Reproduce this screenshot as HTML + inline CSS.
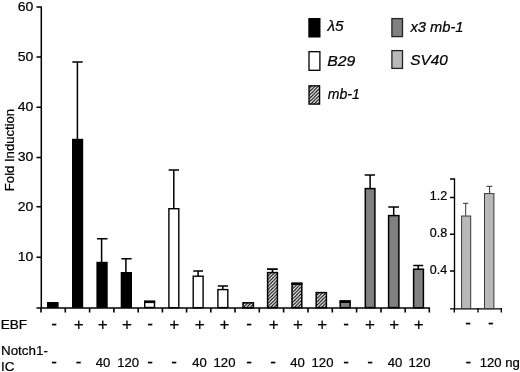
<!DOCTYPE html>
<html>
<head>
<meta charset="utf-8">
<title>Fold Induction</title>
<style>
html,body{margin:0;padding:0;background:#fff;}
svg{display:block;will-change:transform;}
text{font-family:"Liberation Sans",Arial,sans-serif;fill:#000;stroke:#000;stroke-width:0.22px;}
.ax{font-size:12.5px;}
.lg{font-size:15px;font-style:italic;}
.lb{font-size:13.1px;text-anchor:middle;}
.pm{font-size:17px;}
</style>
</head>
<body>
<svg width="520" height="372" viewBox="0 0 520 372">
<defs>
<pattern id="h" width="3.4" height="3.4" patternUnits="userSpaceOnUse">
<rect width="3.4" height="3.4" fill="#fff"/>
<path d="M-1 1L1 -1M0 3.4L3.4 0M2.4 4.4L4.4 2.4" stroke="#000" stroke-width="1.1"/>
</pattern>
</defs>
<rect width="520" height="372" fill="#fff"/>

<!-- main axes -->
<g stroke="#000" stroke-width="1.6" fill="none">
<path d="M41.3 6.5V308" stroke-width="1.5"/>
<path d="M36.5 308H430"/>
<path d="M36.5 7H41M36.5 57H41M36.5 107.3H41M36.5 157.5H41M36.5 206.7H41M36.5 257.3H41"/>
<path d="M41 308V312.5M65.3 308V312.5M89.6 308V312.5M113.9 308V312.5M138.2 308V312.5M162.4 308V312.5M186.6 308V312.5M210.8 308V312.5M235 308V312.5M259.3 308V312.5M283.6 308V312.5M308 308V312.5M332.3 308V312.5M356.6 308V312.5M381 308V312.5M405.2 308V312.5M429.3 308V312.5"/>
</g>
<g class="ax" text-anchor="end" style="font-size:13.3px">
<text x="33.3" y="10.9" textLength="15.6" lengthAdjust="spacingAndGlyphs">60</text>
<text x="33.3" y="60.9" textLength="15.6" lengthAdjust="spacingAndGlyphs">50</text>
<text x="33.3" y="111.2" textLength="15.6" lengthAdjust="spacingAndGlyphs">40</text>
<text x="33.3" y="161.4" textLength="15.6" lengthAdjust="spacingAndGlyphs">30</text>
<text x="33.3" y="210.9" textLength="15.6" lengthAdjust="spacingAndGlyphs">20</text>
<text x="33.3" y="261.2" textLength="15.6" lengthAdjust="spacingAndGlyphs">10</text>
</g>
<text transform="translate(13.8,150) rotate(-90)" text-anchor="middle" style="font-size:13.1px">Fold Induction</text>

<!-- error bars -->
<g stroke="#000" stroke-width="1.5" fill="none">
<path d="M77.4 139V62M72.3 62H82.7"/>
<path d="M101.6 262V238.8M97 238.8H107.5"/>
<path d="M125.9 272V258.8M121.3 258.8H131.6"/>
<path d="M173.8 208V170M168.6 170H179"/>
<path d="M198.1 276V271M193.2 271H203"/>
<path d="M222.8 289V286M217.8 286H228"/>
<path d="M272.5 272V269.1M267 269.1H277.8" stroke-width="1.7"/>
<path d="M370.1 188V175M364.7 175H375"/>
<path d="M393.7 215V207M388.3 207H399"/>
<path d="M418.2 269V265.4M413.3 265.4H423.2"/>
</g>

<!-- bars: lambda5 -->
<g fill="#000">
<rect x="47" y="302" width="11.6" height="6"/>
<rect x="72" y="138.8" width="11.2" height="169"/>
<rect x="96.4" y="261.8" width="11.3" height="46"/>
<rect x="120.7" y="272" width="11.3" height="36"/>
</g>
<!-- B29 -->
<g fill="#fff" stroke="#000" stroke-width="1.4">
<rect x="144.7" y="301.5" width="9.8" height="6"/>
<rect x="168.9" y="208.7" width="9.9" height="99"/>
<rect x="193.2" y="276.2" width="9.9" height="31.5"/>
<rect x="217.9" y="289.6" width="9.9" height="18"/>
</g>
<rect x="144" y="300.5" width="11.2" height="2.6" fill="#000"/>
<!-- mb-1 -->
<g fill="url(#h)" stroke="#000" stroke-width="1.5">
<rect x="243" y="302.8" width="10.4" height="5"/>
<rect x="267.6" y="272.6" width="9.8" height="35"/>
<rect x="292" y="283.6" width="9.8" height="24"/>
<rect x="316.2" y="292.6" width="10.2" height="15"/>
</g>
<rect x="291.4" y="282.4" width="11" height="2.6" fill="#000"/>
<!-- x3 mb-1 -->
<g fill="#808080" stroke="#000" stroke-width="1.5">
<rect x="340.2" y="301.3" width="9.9" height="6.4"/>
<rect x="365.3" y="188.6" width="9.6" height="119"/>
<rect x="388.6" y="215.6" width="10.3" height="92"/>
<rect x="413.6" y="269.2" width="9.8" height="38.5"/>
</g>
<rect x="339.6" y="300.2" width="11.1" height="2.8" fill="#000"/>

<!-- inset -->
<g stroke="#000" stroke-width="1.35" fill="none">
<path d="M454.5 178.3V309.5"/>
<path d="M450 308.9H502"/>
<path d="M450 179H454.3M450 197.5H454.3M450 234.2H454.3M450 271H454.3"/>
<path d="M454.3 308V312.5M478 308V312.5M501.3 308V312.5"/>
</g>
<g class="ax" text-anchor="end">
<text x="447.2" y="200.2">1.2</text>
<text x="447.2" y="237.0">0.8</text>
<text x="447.2" y="273.7">0.4</text>
</g>
<g stroke="#333" stroke-width="1" fill="none">
<path d="M465.7 215.5V203.3M463 203.3H468.3"/>
<path d="M489.6 193V186.3M486.4 186.3H492.4"/>
</g>
<g fill="#b9b9b9" stroke="#3a3a3a" stroke-width="1">
<rect x="461.6" y="216" width="9.1" height="92.5"/>
<rect x="484.5" y="193.6" width="9.4" height="115"/>
</g>

<!-- legend -->
<rect x="308.3" y="18" width="12.2" height="19.5" fill="#000"/>
<rect x="309" y="51.7" width="10.9" height="18.6" fill="#fff" stroke="#000" stroke-width="1.3"/>
<rect x="309" y="85.8" width="10.6" height="18.3" fill="url(#h)" stroke="#000" stroke-width="1.3"/>
<rect x="391.9" y="18.6" width="10.6" height="18" fill="#808080" stroke="#222" stroke-width="1.3"/>
<rect x="391.9" y="50.6" width="10.6" height="17.8" fill="#b9b9b9" stroke="#222" stroke-width="1.3"/>
<g class="lg">
<text transform="translate(327.4,31.2) scale(1.03,1)">λ5</text>
<text transform="translate(327.2,66.2) scale(1.05,1)">B29</text>
<text transform="translate(327.8,99) scale(0.936,1)">mb-1</text>
<text transform="translate(410.4,32) scale(0.98,1)">x3 mb-1</text>
<text transform="translate(410.3,64.8) scale(1.02,1)">SV40</text>
</g>

<!-- x labels -->
<text x="0.7" y="328.8" style="font-size:13.6px">EBF</text>
<g class="lb">
<text x="54" y="328.8" class="pm">-</text>
<text x="78.6" y="329.8" class="pm">+</text>
<text x="102.8" y="329.8" class="pm">+</text>
<text x="127" y="329.8" class="pm">+</text>
<text x="150" y="328.8" class="pm">-</text>
<text x="174.2" y="329.8" class="pm">+</text>
<text x="199.6" y="329.8" class="pm">+</text>
<text x="224.5" y="329.8" class="pm">+</text>
<text x="249" y="328.8" class="pm">-</text>
<text x="273.8" y="329.8" class="pm">+</text>
<text x="298" y="329.8" class="pm">+</text>
<text x="322.3" y="329.8" class="pm">+</text>
<text x="346" y="328.8" class="pm">-</text>
<text x="370" y="329.8" class="pm">+</text>
<text x="394.3" y="329.8" class="pm">+</text>
<text x="418.7" y="329.8" class="pm">+</text>
<text x="468.2" y="328.2" class="pm">-</text>
<text x="490.8" y="328.2" class="pm">-</text>
</g>
<text x="1" y="355" style="font-size:13.4px">Notch1-</text>
<text x="1" y="370.8" style="font-size:13.4px">IC</text>
<g class="lb">
<text x="54" y="367" class="pm">-</text>
<text x="78.6" y="367" class="pm">-</text>
<text x="103.1" y="367.1">40</text>
<text x="128.1" y="367.1">120</text>
<text x="150" y="367" class="pm">-</text>
<text x="174.2" y="367" class="pm">-</text>
<text x="199.5" y="367.1">40</text>
<text x="224.5" y="367.1">120</text>
<text x="249" y="367" class="pm">-</text>
<text x="273" y="367" class="pm">-</text>
<text x="297.5" y="367.1">40</text>
<text x="322.5" y="367.1">120</text>
<text x="346" y="367" class="pm">-</text>
<text x="370" y="367" class="pm">-</text>
<text x="395" y="367.1">40</text>
<text x="419.5" y="367.1">120</text>
<text x="468.3" y="367" class="pm">-</text>
<text x="499.7" y="367.1">120 ng</text>
</g>
</svg>
</body>
</html>
